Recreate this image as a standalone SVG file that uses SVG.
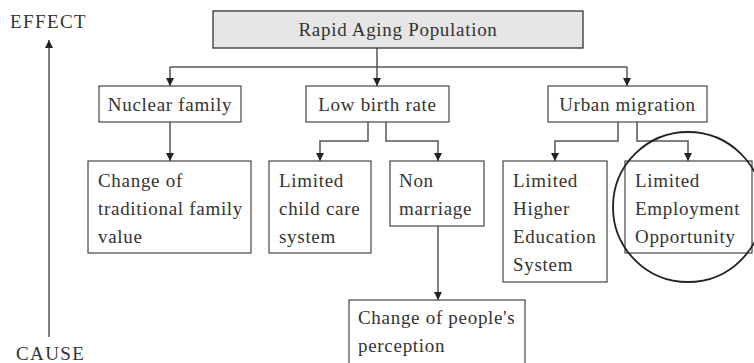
<svg xmlns="http://www.w3.org/2000/svg" width="754" height="363" viewBox="0 0 754 363">
<defs>
<marker id="ah" viewBox="0 0 8 10" refX="8" refY="5" markerWidth="8" markerHeight="10" markerUnits="userSpaceOnUse" orient="auto">
<path d="M0,1 L8,5 L0,9 Z" fill="#222"/>
</marker>
</defs>
<style>
text{font-family:"Liberation Serif","Times New Roman",serif;font-size:19px;fill:#333;letter-spacing:0.7px}
.box{fill:#fff;stroke:#444;stroke-width:1.2}
.hdr{fill:#e6e6e6;stroke:#333;stroke-width:1.3}
.c{fill:none;stroke:#555;stroke-width:1.5}
.ca{fill:none;stroke:#555;stroke-width:1.5;marker-end:url(#ah)}
</style>
<rect width="754" height="363" fill="#fff"/>
<g id="axis">
<line x1="49" y1="337" x2="49" y2="40" class="ca" stroke="#333"/>
<text x="10" y="28" style="letter-spacing:1.4px">EFFECT</text>
<text x="16" y="360" style="letter-spacing:1.4px">CAUSE</text>
</g>
<g id="connectors">
<line x1="377" y1="48" x2="377" y2="67" class="c"/>
<polyline points="170,67 627,67" class="c"/>
<line x1="170" y1="67" x2="170" y2="86" class="ca"/>
<line x1="377" y1="67" x2="377" y2="86" class="ca"/>
<line x1="627" y1="67" x2="627" y2="86" class="ca"/>
<line x1="170" y1="122" x2="170" y2="161" class="ca"/>
<polyline points="368,122 368,141 320,141 320,161" class="ca"/>
<polyline points="386,122 386,141 438,141 438,161" class="ca"/>
<line x1="438" y1="226" x2="438" y2="300" class="ca"/>
<polyline points="618,122 618,141 555,141 555,161" class="ca"/>
<polyline points="637,122 637,141 688,141 688,161" class="ca"/>
</g>
<g id="rapid-aging">
<rect x="213" y="11" width="370" height="37" class="hdr"/>
<text x="398" y="36" text-anchor="middle">Rapid Aging Population</text>
</g>
<g id="nuclear-family">
<rect x="99" y="86" width="142" height="36" class="box"/>
<text x="170" y="111" text-anchor="middle">Nuclear family</text>
</g>
<g id="low-birth-rate">
<rect x="306" y="86" width="143" height="36" class="box"/>
<text x="377.5" y="111" text-anchor="middle">Low birth rate</text>
</g>
<g id="urban-migration">
<rect x="548" y="86" width="159" height="36" class="box"/>
<text x="627.5" y="111" text-anchor="middle">Urban migration</text>
</g>
<g id="change-family-value">
<rect x="88" y="161" width="163" height="92" class="box"/>
<text x="98" y="187">Change of</text>
<text x="98" y="215">traditional family</text>
<text x="98" y="243">value</text>
</g>
<g id="child-care">
<rect x="269" y="161" width="102" height="92" class="box"/>
<text x="279" y="187">Limited</text>
<text x="279" y="215">child care</text>
<text x="279" y="243">system</text>
</g>
<g id="non-marriage">
<rect x="390" y="161" width="94" height="65" class="box"/>
<text x="399" y="187">Non</text>
<text x="399" y="215">marriage</text>
</g>
<g id="perception">
<rect x="349" y="300" width="176" height="75" class="box"/>
<text x="358" y="324">Change of people's</text>
<text x="358" y="352">perception</text>
</g>
<g id="higher-education">
<rect x="503" y="161" width="104" height="121" class="box"/>
<text x="513" y="187">Limited</text>
<text x="513" y="215">Higher</text>
<text x="513" y="243">Education</text>
<text x="513" y="271">System</text>
</g>
<g id="employment">
<rect x="625" y="161" width="127" height="92" class="box"/>
<text x="635" y="187">Limited</text>
<text x="635" y="215">Employment</text>
<text x="635" y="243">Opportunity</text>
</g>
<g id="highlight">
<circle cx="688" cy="207" r="75" fill="none" stroke="#222" stroke-width="1.8"/>
</g>
</svg>
